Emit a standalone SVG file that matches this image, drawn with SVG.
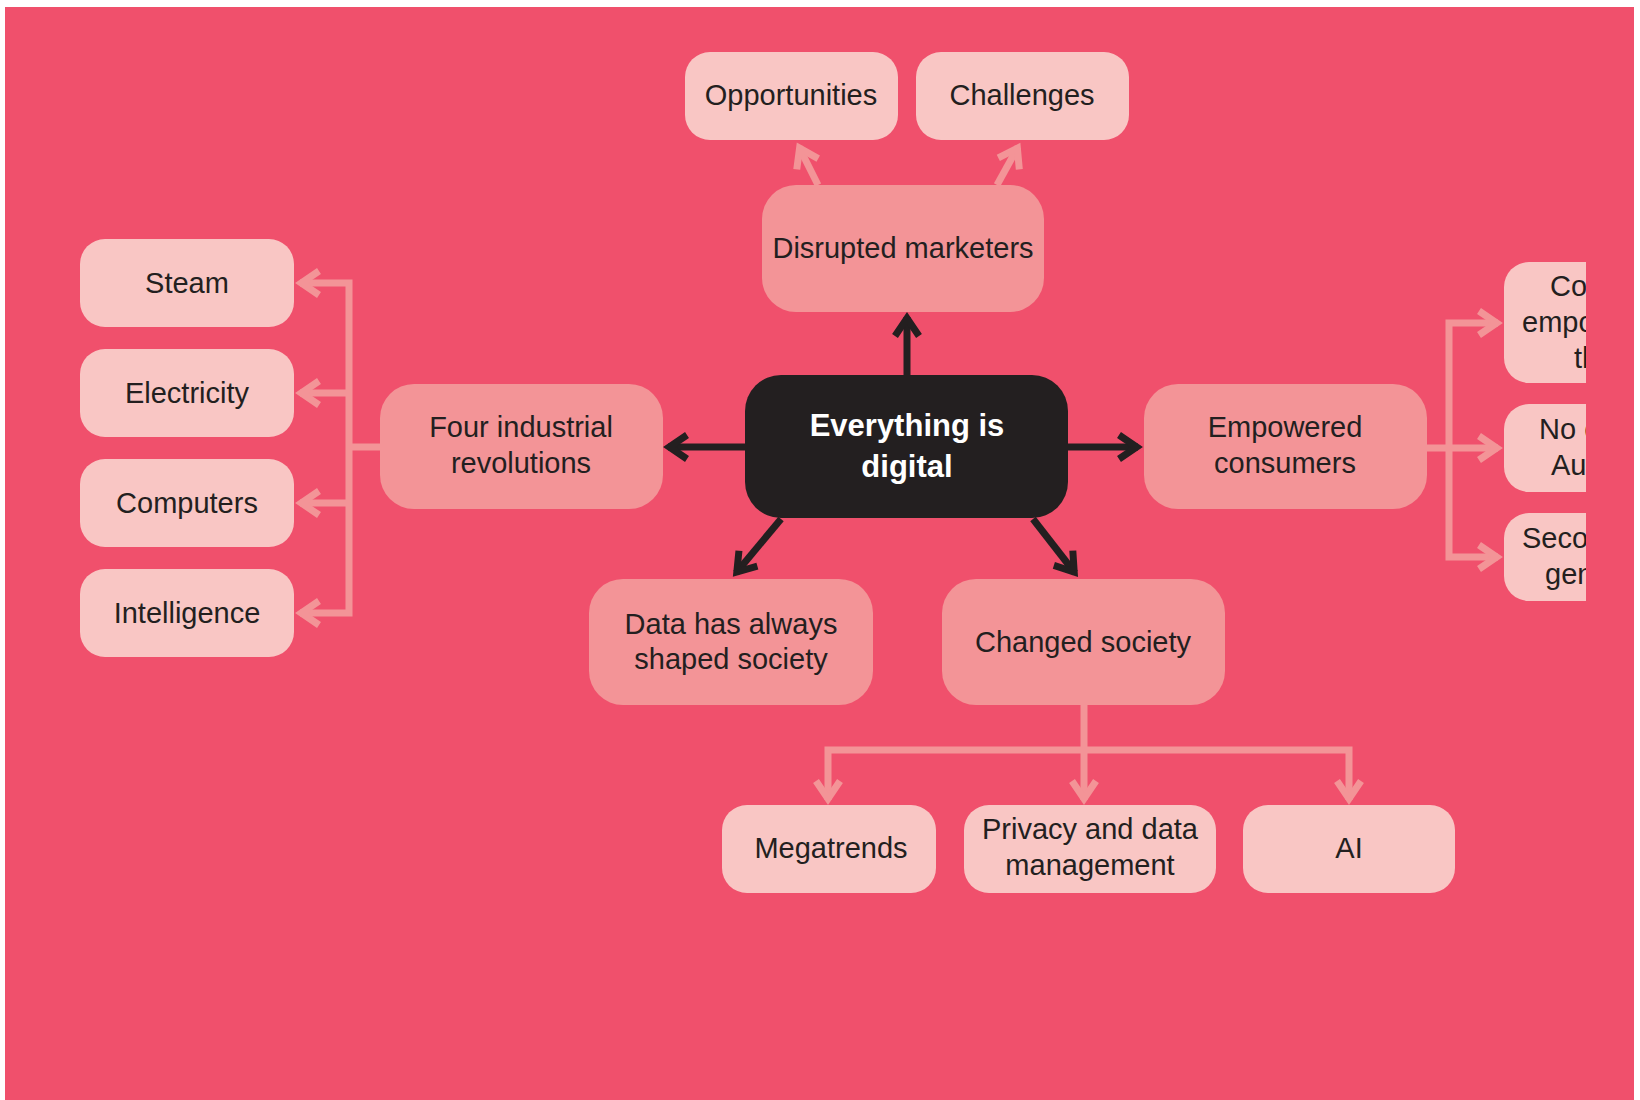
<svg xmlns="http://www.w3.org/2000/svg" width="1640" height="1100" viewBox="0 0 1640 1100">
  <defs>
    <style>
      .lt { fill: #F9C6C4; }
      .md { fill: #F39497; }
      .core { fill: #231F20; }
      .txt { font-family: "Liberation Sans", Arial, sans-serif; font-size: 29px; fill: #231F20; text-anchor: middle; }
      .txt-l { font-family: "Liberation Sans", Arial, sans-serif; font-size: 29px; fill: #231F20; text-anchor: start; }
      .core-txt { font-family: "Liberation Sans", Arial, sans-serif; font-size: 31px; font-weight: bold; fill: #FFFFFF; text-anchor: middle; }
      .dark { fill: none; stroke: #231F20; stroke-width: 7; }
      .light { fill: none; stroke: #F39497; stroke-width: 7; }
    </style>
    <marker id="head-dark" markerUnits="userSpaceOnUse" markerWidth="40" markerHeight="40" viewBox="-25 -20 40 40" refX="0" refY="0" orient="auto-start-reverse">
      <path d="M -19 -12 L -1.3 0 L -19 12" fill="none" stroke="#231F20" stroke-width="7"/>
    </marker>
    <marker id="head-light" markerUnits="userSpaceOnUse" markerWidth="40" markerHeight="40" viewBox="-25 -20 40 40" refX="0" refY="0" orient="auto-start-reverse">
      <path d="M -19 -12 L -1.3 0 L -19 12" fill="none" stroke="#F39497" stroke-width="7"/>
    </marker>
    <clipPath id="edge">
      <rect x="0" y="0" width="1586" height="1100"/>
    </clipPath>
  </defs>

  <!-- page -->
  <rect x="0" y="0" width="1640" height="1100" fill="#FFFFFF"/>
  <rect x="5" y="7" width="1629" height="1093" fill="#F0506C"/>

  <!-- connectors -->
  <g id="connectors">
    <!-- from the core -->
    <line class="dark" x1="907" y1="375" x2="907" y2="317" marker-end="url(#head-dark)"/>
    <line class="dark" x1="745" y1="447" x2="668" y2="447" marker-end="url(#head-dark)"/>
    <line class="dark" x1="1068" y1="447" x2="1138" y2="447" marker-end="url(#head-dark)"/>
    <line class="dark" x1="781" y1="519" x2="736" y2="573" marker-end="url(#head-dark)"/>
    <line class="dark" x1="1033" y1="519" x2="1075" y2="573" marker-end="url(#head-dark)"/>

    <!-- disrupted marketers -->
    <line class="light" x1="818" y1="185" x2="799" y2="147" marker-end="url(#head-light)"/>
    <line class="light" x1="997" y1="185" x2="1018" y2="147" marker-end="url(#head-light)"/>

    <!-- four industrial revolutions -->
    <path class="light" d="M 380 447 H 349"/>
    <path class="light" d="M 300 283 H 349 V 613 H 300" marker-start="url(#head-light)" marker-end="url(#head-light)"/>
    <line class="light" x1="349" y1="393" x2="300" y2="393" marker-end="url(#head-light)"/>
    <line class="light" x1="349" y1="503" x2="300" y2="503" marker-end="url(#head-light)"/>

    <!-- empowered consumers -->
    <line class="light" x1="1427" y1="448" x2="1498" y2="448" marker-end="url(#head-light)"/>
    <path class="light" d="M 1498 323 H 1449 V 557 H 1498" marker-start="url(#head-light)" marker-end="url(#head-light)"/>

    <!-- changed society -->
    <path class="light" d="M 1084 705 V 750"/>
    <path class="light" d="M 828 800 V 750 H 1349 V 800" marker-start="url(#head-light)" marker-end="url(#head-light)"/>
    <line class="light" x1="1084" y1="750" x2="1084" y2="800" marker-end="url(#head-light)"/>
  </g>

  <!-- core -->
  <g id="node-core">
    <rect class="core" x="745" y="375" width="323" height="143" rx="36"/>
    <text class="core-txt" x="907" y="436">Everything is</text>
    <text class="core-txt" x="907" y="477">digital</text>
  </g>

  <!-- upper branch -->
  <g id="node-disrupted">
    <rect class="md" x="762" y="185" width="282" height="127" rx="34"/>
    <text class="txt" x="903" y="258">Disrupted marketers</text>
  </g>
  <g id="node-opportunities">
    <rect class="lt" x="685" y="52" width="213" height="88" rx="25"/>
    <text class="txt" x="791" y="105">Opportunities</text>
  </g>
  <g id="node-challenges">
    <rect class="lt" x="916" y="52" width="213" height="88" rx="25"/>
    <text class="txt" x="1022" y="105">Challenges</text>
  </g>

  <!-- left branch -->
  <g id="node-revolutions">
    <rect class="md" x="380" y="384" width="283" height="125" rx="34"/>
    <text class="txt" x="521" y="437">Four industrial</text>
    <text class="txt" x="521" y="473">revolutions</text>
  </g>
  <g id="node-steam">
    <rect class="lt" x="80" y="239" width="214" height="88" rx="25"/>
    <text class="txt" x="187" y="293">Steam</text>
  </g>
  <g id="node-electricity">
    <rect class="lt" x="80" y="349" width="214" height="88" rx="25"/>
    <text class="txt" x="187" y="403">Electricity</text>
  </g>
  <g id="node-computers">
    <rect class="lt" x="80" y="459" width="214" height="88" rx="25"/>
    <text class="txt" x="187" y="513">Computers</text>
  </g>
  <g id="node-intelligence">
    <rect class="lt" x="80" y="569" width="214" height="88" rx="25"/>
    <text class="txt" x="187" y="623">Intelligence</text>
  </g>

  <!-- right branch -->
  <g id="node-empowered">
    <rect class="md" x="1144" y="384" width="283" height="125" rx="34"/>
    <text class="txt" x="1285" y="437">Empowered</text>
    <text class="txt" x="1285" y="473">consumers</text>
  </g>
  <g clip-path="url(#edge)">
    <g id="node-right-1">
      <rect class="lt" x="1504" y="262" width="214" height="121" rx="25"/>
      <text class="txt-l" x="1550" y="296">Con</text>
      <text class="txt-l" x="1522" y="332">empow</text>
      <text class="txt-l" x="1574" y="368">th</text>
    </g>
    <g id="node-right-2">
      <rect class="lt" x="1504" y="404" width="214" height="88" rx="25"/>
      <text class="txt-l" x="1539" y="439">No o</text>
      <text class="txt-l" x="1551" y="475">Aus</text>
    </g>
    <g id="node-right-3">
      <rect class="lt" x="1504" y="513" width="214" height="88" rx="25"/>
      <text class="txt-l" x="1522" y="548">Secon</text>
      <text class="txt-l" x="1545" y="584">gen</text>
    </g>
  </g>

  <!-- lower branches -->
  <g id="node-data">
    <rect class="md" x="589" y="579" width="284" height="126" rx="34"/>
    <text class="txt" x="731" y="634">Data has always</text>
    <text class="txt" x="731" y="669">shaped society</text>
  </g>
  <g id="node-changed">
    <rect class="md" x="942" y="579" width="283" height="126" rx="34"/>
    <text class="txt" x="1083" y="652">Changed society</text>
  </g>
  <g id="node-megatrends">
    <rect class="lt" x="722" y="805" width="214" height="88" rx="25"/>
    <text class="txt" x="831" y="858">Megatrends</text>
  </g>
  <g id="node-privacy">
    <rect class="lt" x="964" y="805" width="252" height="88" rx="25"/>
    <text class="txt" x="1090" y="839">Privacy and data</text>
    <text class="txt" x="1090" y="875">management</text>
  </g>
  <g id="node-ai">
    <rect class="lt" x="1243" y="805" width="212" height="88" rx="25"/>
    <text class="txt" x="1349" y="858">AI</text>
  </g>
</svg>
